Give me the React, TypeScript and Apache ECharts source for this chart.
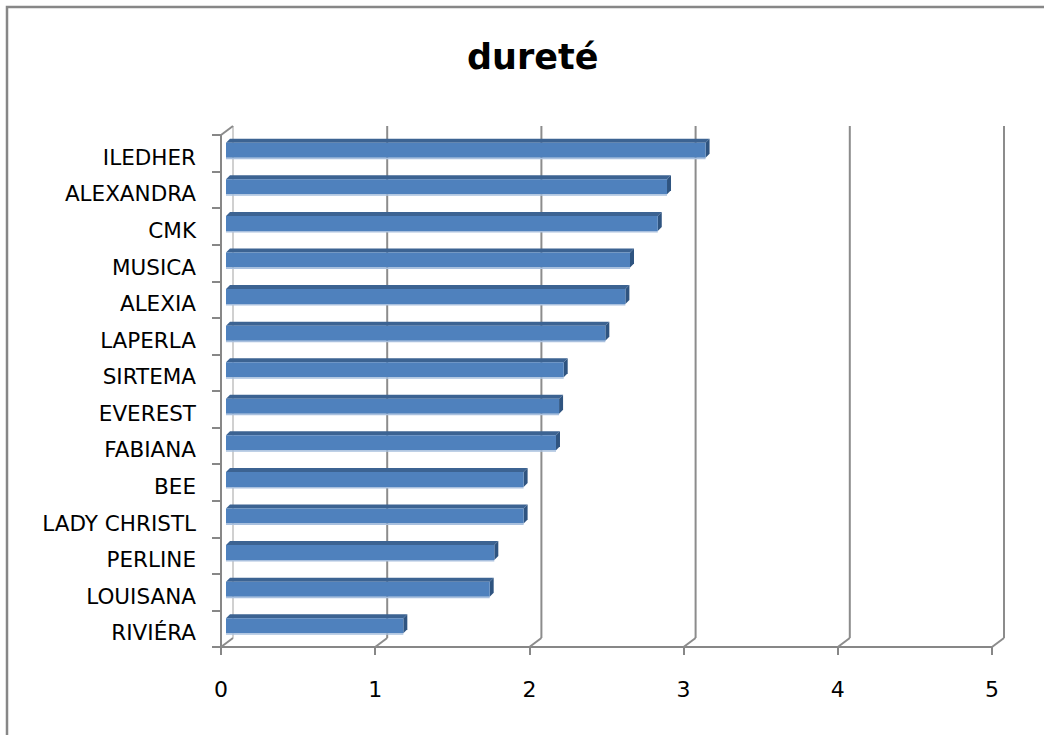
import React, { useEffect, useRef } from "react";
import * as echarts from "echarts";

const TITLE = "dureté";
const CATEGORIES = [
  "ILEDHER",
  "ALEXANDRA",
  "CMK",
  "MUSICA",
  "ALEXIA",
  "LAPERLA",
  "SIRTEMA",
  "EVEREST",
  "FABIANA",
  "BEE",
  "LADY CHRISTL",
  "PERLINE",
  "LOUISANA",
  "RIVIÉRA",
];
const VALUES = [3.11, 2.86, 2.8, 2.62, 2.59, 2.46, 2.19, 2.16, 2.14, 1.93, 1.93, 1.74, 1.71, 1.15];
const X_TICKS = [0, 1, 2, 3, 4, 5];

// 3D depth offsets (pixels)
const DEPTH_DX = 12;
const DEPTH_DY = -9;

export default function App() {
  const ref = useRef<HTMLDivElement>(null);

  useEffect(() => {
    document.body.style.margin = "0";
    if (!ref.current) return;
    const chart = echarts.init(ref.current, null, { renderer: "svg" });

    const gridSeries = {
      type: "custom",
      clip: false,
      z: 1,
      silent: true,
      data: X_TICKS.map((v) => [v, 0]),
      renderItem: (params: any, api: any) => {
        const v = api.value(0);
        const cs = params.coordSys;
        const top = cs.y;
        const bottom = cs.y + cs.height;
        const x = api.coord([v, 0])[0];
        const children: any[] = [
          {
            type: "line",
            shape: { x1: x + DEPTH_DX, y1: top + DEPTH_DY, x2: x + DEPTH_DX, y2: bottom + DEPTH_DY },
            style: { stroke: v === 0 ? "#d0d0d0" : "#8c8c8c", lineWidth: 2 },
          },
          {
            type: "line",
            shape: { x1: x, y1: bottom, x2: x + DEPTH_DX, y2: bottom + DEPTH_DY },
            style: { stroke: "#8c8c8c", lineWidth: 2 },
          },
        ];
        if (v === 0) {
          children.push({
            type: "line",
            shape: { x1: x, y1: top, x2: x + DEPTH_DX, y2: top + DEPTH_DY },
            style: { stroke: "#8c8c8c", lineWidth: 2 },
          });
        }
        return { type: "group", children };
      },
    };

    const barSeries = {
      type: "custom",
      clip: false,
      z: 5,
      data: CATEGORIES.map((c, i) => [VALUES[i], i]),
      renderItem: (params: any, api: any) => {
        const v = api.value(0);
        const idx = api.value(1);
        const p1 = api.coord([v, idx]);
        const p0 = api.coord([0, idx]);
        const ox = 5;
        const oy = -3;
        const h = 15;
        const d = 4;
        const xl = p0[0] + ox;
        const xr = p1[0] + ox;
        const yt = p1[1] + oy - h / 2;
        const yb = yt + h;
        return {
          type: "group",
          children: [
            {
              type: "polygon",
              shape: { points: [[xl, yt], [xr, yt], [xr + d, yt - d], [xl + d, yt - d]] },
              style: { fill: "#3c6392" },
            },
            {
              type: "polygon",
              shape: { points: [[xr, yt], [xr + d, yt - d], [xr + d, yb - d], [xr, yb]] },
              style: { fill: "#2f5480" },
            },
            {
              type: "rect",
              shape: { x: xl, y: yt, width: xr - xl, height: h },
              style: { fill: "#4f81bd" },
            },
            {
              type: "rect",
              shape: { x: xl, y: yb, width: xr - xl, height: 1.5 },
              style: { fill: "#a9c0de" },
            },
          ],
        };
      },
    };

    chart.setOption({
      animation: false,
      backgroundColor: "#ffffff",
      title: {
        text: TITLE,
        left: 462,
        top: 34,
        textStyle: {
          fontFamily: "DejaVu Sans",
          fontWeight: "bold",
          fontSize: 35,
          color: "#000000",
        },
      },
      graphic: [
        {
          type: "rect",
          shape: { x: 7, y: 7, width: 1100, height: 800 },
          style: { fill: "none", stroke: "#878787", lineWidth: 2.5 },
          silent: true,
          z: 0,
        },
      ],
      grid: { left: 221, right: 52, top: 135, bottom: 88, containLabel: false },
      xAxis: {
        type: "value",
        min: 0,
        max: 5,
        interval: 1,
        axisLine: { show: true, lineStyle: { color: "#878787", width: 2 } },
        axisTick: { show: true, length: 8, lineStyle: { color: "#878787", width: 2 } },
        splitLine: { show: false },
        axisLabel: {
          margin: 31,
          fontFamily: "DejaVu Sans",
          fontSize: 22,
          color: "#000000",
        },
      },
      yAxis: {
        type: "category",
        inverse: true,
        data: CATEGORIES,
        axisLine: { show: true, lineStyle: { color: "#878787", width: 2 } },
        axisTick: { show: true, length: 9, lineStyle: { color: "#878787", width: 2 } },
        axisLabel: {
          margin: 25,
          fontFamily: "DejaVu Sans",
          fontSize: 21.5,
          color: "#000000",
          verticalAlign: "top",
          lineHeight: 8,
        },
      },
      series: [gridSeries, barSeries],
    });

    return () => chart.dispose();
  }, []);

  return <div ref={ref} style={{ width: 1044, height: 735 }} />;
}
